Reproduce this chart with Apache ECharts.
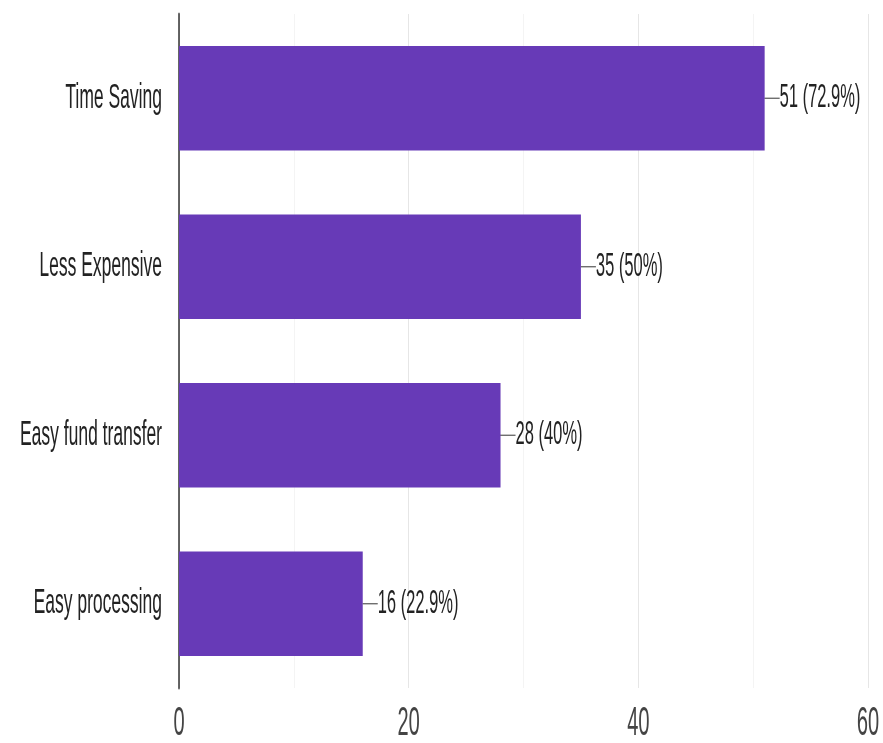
<!DOCTYPE html>
<html>
<head>
<meta charset="utf-8">
<script src="https://cdn.jsdelivr.net/npm/echarts@6/dist/echarts.min.js"></script>
<style>
  html, body { margin: 0; padding: 0; background: #fff; overflow: hidden; }
  #wrap { width: 883px; height: 743px; overflow: hidden; }
  /* the chart is drawn at half height and stretched tall */
  #chart { width: 883px; height: 371.5px; transform: scale(1, 2); transform-origin: 0 0; }
</style>
</head>
<body>
<div id="wrap"><div id="chart"></div></div>
<script>
const categories = ['Time Saving', 'Less Expensive', 'Easy fund transfer', 'Easy processing'];
const counts = [51, 35, 28, 16];
const percents = ['72.9%', '50%', '40%', '22.9%'];
const xTicks = [0, 20, 40, 60];

const chart = echarts.init(document.getElementById('chart'), null, { devicePixelRatio: 2 });

chart.setOption({
  animation: false,
  backgroundColor: '#fff',
  grid: { left: 179, right: 15, top: 7, bottom: 26.5, containLabel: false },
  xAxis: {
    type: 'value',
    min: xTicks[0],
    max: xTicks[xTicks.length - 1],
    interval: 20,
    axisLine: { show: false },
    axisTick: { show: false },
    axisLabel: {
      color: '#444',
      fontFamily: 'Liberation Sans, Arial, sans-serif',
      fontSize: 20,
      margin: 8,
      formatter: v => String(v)
    },
    splitLine: { show: true, lineStyle: { color: '#e6e6e6', width: 1 } },
    minorTick: { show: false, splitNumber: 2 },
    minorSplitLine: { show: true, lineStyle: { color: '#f4f4f4', width: 1 } }
  },
  yAxis: {
    type: 'category',
    data: categories,
    inverse: true,
    axisLine: { show: true, lineStyle: { color: '#333', width: 1.5 } },
    axisTick: { show: false },
    axisLabel: {
      color: '#222',
      fontFamily: 'Liberation Sans, Arial, sans-serif',
      fontSize: 17.5,
      margin: 17
    },
    splitLine: { show: false }
  },
  series: [{
    type: 'bar',
    data: counts,
    barWidth: '62%',
    itemStyle: { color: '#673ab7' },
    label: {
      show: true,
      position: 'right',
      distance: 0,
      formatter: p => '{ln|}{t|' + counts[p.dataIndex] + ' (' + percents[p.dataIndex] + ')}',
      rich: {
        ln: { width: 15, height: 0.6, backgroundColor: '#555' },
        t: {
          color: '#222',
          fontFamily: 'Liberation Sans, Arial, sans-serif',
          fontSize: 16.5
        }
      }
    }
  }]
});
</script>
</body>
</html>
